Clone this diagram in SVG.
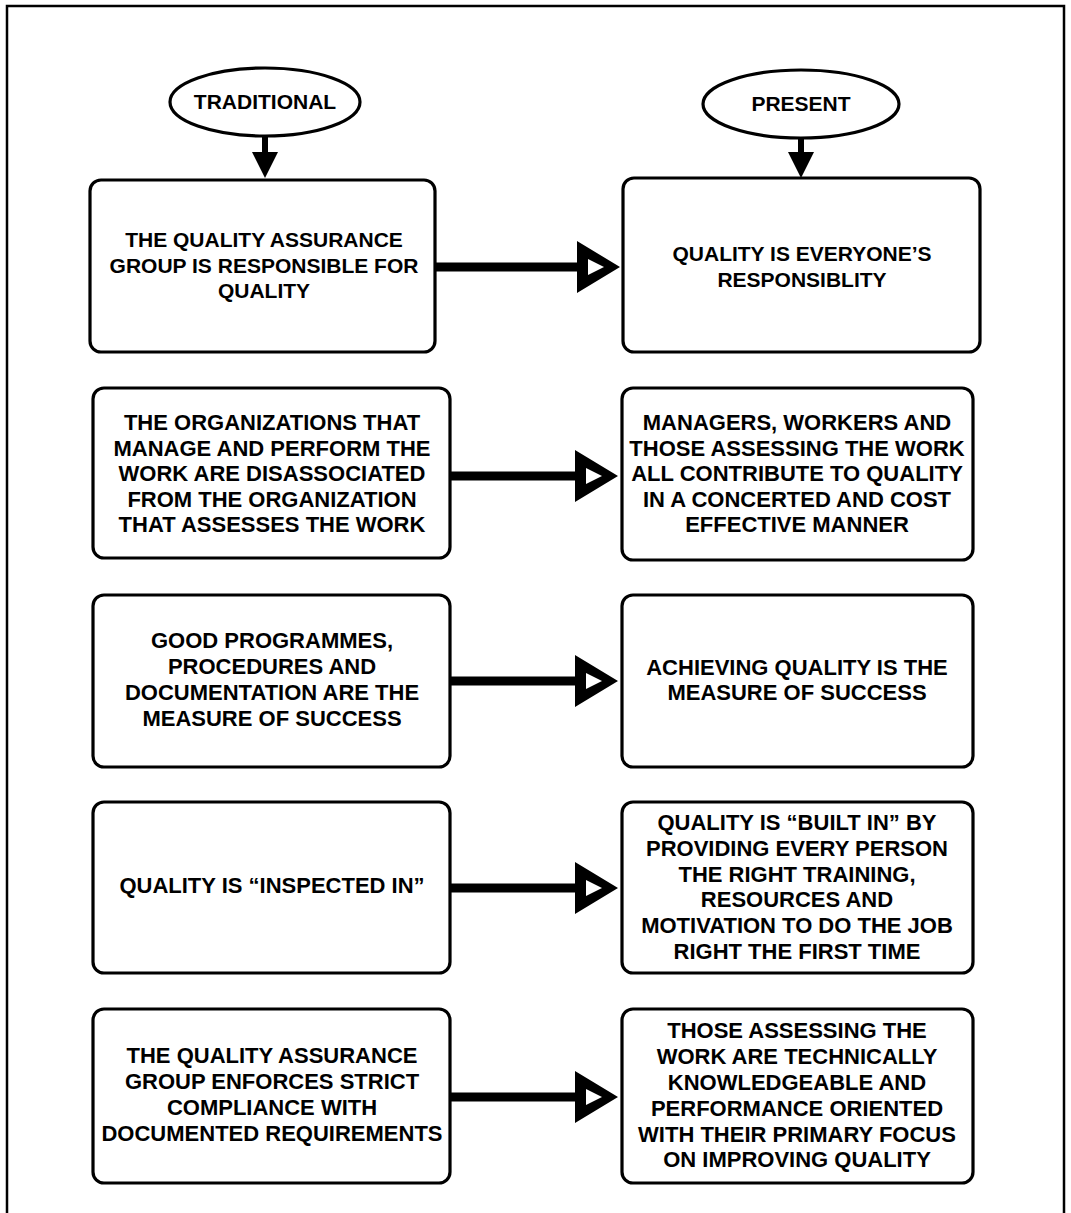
<svg xmlns="http://www.w3.org/2000/svg" xmlns:xlink="http://www.w3.org/1999/xlink" width="1071" height="1213" viewBox="0 0 1071 1213">
<style>
.box{fill:#fff;stroke:#000;stroke-width:3.2}
.ell{fill:#fff;stroke:#000;stroke-width:3.2}
.t{font-family:"Liberation Sans",Arial,Helvetica,sans-serif;font-weight:bold;font-size:22px;fill:#000;text-anchor:middle}
.t1{font-size:21px}
.shaft{stroke:#000;stroke-width:9;fill:none}
.frame{fill:none;stroke:#000;stroke-width:2.5}
</style>
<defs>
<path id="head" d="M0,-26 L43,0 L0,26 Z M11,-8 L11,8 L27,0 Z" fill="#000" fill-rule="evenodd"/>
<path id="down" d="M-3,0 H3 V15 H13 L0,41 L-13,15 H-3 Z" fill="#000"/>
</defs>
<rect width="1071" height="1213" fill="#fff"/>
<path class="frame" d="M7,1213 V6 H1064 V1213"/>

<g id="connectors">
<use xlink:href="#down" x="265" y="137"/>
<use xlink:href="#down" x="801" y="137"/>
<line class="shaft" x1="435" y1="267" x2="580" y2="267"/>
<use xlink:href="#head" x="577" y="267"/>
<line class="shaft" x1="450" y1="476" x2="578" y2="476"/>
<use xlink:href="#head" x="575" y="476"/>
<line class="shaft" x1="450" y1="681" x2="578" y2="681"/>
<use xlink:href="#head" x="575" y="681"/>
<line class="shaft" x1="450" y1="888" x2="578" y2="888"/>
<use xlink:href="#head" x="575" y="888"/>
<line class="shaft" x1="450" y1="1097" x2="578" y2="1097"/>
<use xlink:href="#head" x="575" y="1097"/>
</g>

<g id="traditional">
<ellipse class="ell" cx="265" cy="102" rx="95" ry="34"/>
<text class="t t1" x="265" y="109">TRADITIONAL</text>
</g>
<g id="present">
<ellipse class="ell" cx="801" cy="104" rx="98" ry="34"/>
<text class="t t1" x="801" y="111">PRESENT</text>
</g>

<g id="trad1">
<rect class="box" x="90" y="180" width="345" height="172" rx="11"/>
<text class="t t1" x="264" y="247">THE QUALITY ASSURANCE</text>
<text class="t t1" x="264" y="273">GROUP IS RESPONSIBLE FOR</text>
<text class="t t1" x="264" y="298">QUALITY</text>
</g>
<g id="pres1">
<rect class="box" x="623" y="178" width="357" height="174" rx="11"/>
<text class="t t1" x="802" y="261">QUALITY IS EVERYONE’S</text>
<text class="t t1" x="802" y="287">RESPONSIBLITY</text>
</g>

<g id="trad2">
<rect class="box" x="93" y="388" width="357" height="170" rx="11"/>
<text class="t" x="272" y="430">THE ORGANIZATIONS THAT</text>
<text class="t" x="272" y="456">MANAGE AND PERFORM THE</text>
<text class="t" x="272" y="481">WORK ARE DISASSOCIATED</text>
<text class="t" x="272" y="507">FROM THE ORGANIZATION</text>
<text class="t" x="272" y="532">THAT ASSESSES THE WORK</text>
</g>
<g id="pres2">
<rect class="box" x="622" y="388" width="351" height="172" rx="11"/>
<text class="t" x="797" y="430">MANAGERS, WORKERS AND</text>
<text class="t" x="797" y="456">THOSE ASSESSING THE WORK</text>
<text class="t" x="797" y="481">ALL CONTRIBUTE TO QUALITY</text>
<text class="t" x="797" y="507">IN A CONCERTED AND COST</text>
<text class="t" x="797" y="532">EFFECTIVE MANNER</text>
</g>

<g id="trad3">
<rect class="box" x="93" y="595" width="357" height="172" rx="11"/>
<text class="t" x="272" y="648">GOOD PROGRAMMES,</text>
<text class="t" x="272" y="674">PROCEDURES AND</text>
<text class="t" x="272" y="700">DOCUMENTATION ARE THE</text>
<text class="t" x="272" y="726">MEASURE OF SUCCESS</text>
</g>
<g id="pres3">
<rect class="box" x="622" y="595" width="351" height="172" rx="11"/>
<text class="t" x="797" y="675">ACHIEVING QUALITY IS THE</text>
<text class="t" x="797" y="700">MEASURE OF SUCCESS</text>
</g>

<g id="trad4">
<rect class="box" x="93" y="802" width="357" height="171" rx="11"/>
<text class="t" x="272" y="893">QUALITY IS “INSPECTED IN”</text>
</g>
<g id="pres4">
<rect class="box" x="622" y="802" width="351" height="171" rx="11"/>
<text class="t" x="797" y="830">QUALITY IS “BUILT IN” BY</text>
<text class="t" x="797" y="856">PROVIDING EVERY PERSON</text>
<text class="t" x="797" y="882">THE RIGHT TRAINING,</text>
<text class="t" x="797" y="907">RESOURCES AND</text>
<text class="t" x="797" y="933">MOTIVATION TO DO THE JOB</text>
<text class="t" x="797" y="959">RIGHT THE FIRST TIME</text>
</g>

<g id="trad5">
<rect class="box" x="93" y="1009" width="357" height="174" rx="11"/>
<text class="t" x="272" y="1063">THE QUALITY ASSURANCE</text>
<text class="t" x="272" y="1089">GROUP ENFORCES STRICT</text>
<text class="t" x="272" y="1115">COMPLIANCE WITH</text>
<text class="t" x="272" y="1141">DOCUMENTED REQUIREMENTS</text>
</g>
<g id="pres5">
<rect class="box" x="622" y="1009" width="351" height="174" rx="11"/>
<text class="t" x="797" y="1038">THOSE ASSESSING THE</text>
<text class="t" x="797" y="1064">WORK ARE TECHNICALLY</text>
<text class="t" x="797" y="1090">KNOWLEDGEABLE AND</text>
<text class="t" x="797" y="1116">PERFORMANCE ORIENTED</text>
<text class="t" x="797" y="1142">WITH THEIR PRIMARY FOCUS</text>
<text class="t" x="797" y="1167">ON IMPROVING QUALITY</text>
</g>
</svg>
